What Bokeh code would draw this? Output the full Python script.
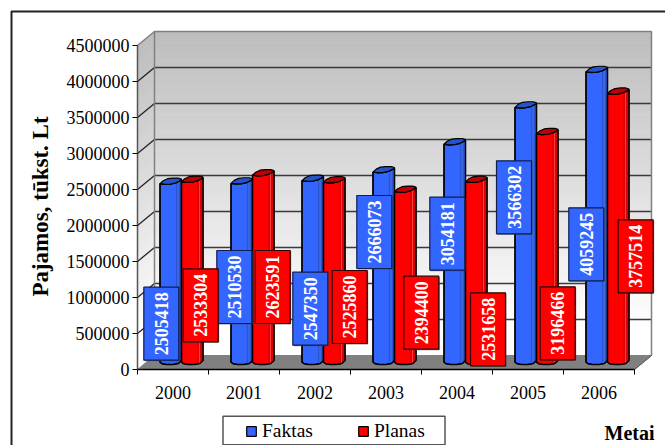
from bokeh.core.properties import value
from bokeh.embed import file_html
from bokeh.models import (BasicTickFormatter, BoxAnnotation, ColumnDataSource, FixedTicker, Label,
                          Legend, LegendItem, LinearAxis, Range1d)
from bokeh.plotting import figure
from bokeh.resources import INLINE
import numpy as np

years = ["2000", "2001", "2002", "2003", "2004", "2005", "2006"]
faktas = [2505418, 2510530, 2547350, 2666073, 3054181, 3566302, 4059245]
planas = [2533304, 2623591, 2525860, 2394400, 2531658, 3196466, 3757514]
y_ticks = [0, 500000, 1000000, 1500000, 2000000, 2500000, 3000000, 3500000, 4000000, 4500000]

# Drawing geometry in canvas pixels
W, H = 665, 445
LEFT, BASE = 137, 369
GROUP_PX = 71.0
UNIT_PX = 324 / 4500000
DEPTH_X, DEPTH_Y = 17.0, 14.0
BAR_W = 21.5
BAR_SHIFT = 8.5
BAR_LIFT = 5.4
FONT = "Liberation Serif"

# Upper-left corners of the value boxes, which sit freely over the columns
faktas_box = [(143.3, 286.7), (216.3, 250), (292.3, 271.7), (356.3, 195), (429.3, 196.7), (496, 160.3), (568.3, 207.3)]
planas_box = [(182.7, 268.3), (254.7, 250), (331.7, 270), (403.3, 275.7), (470, 292.3), (539.7, 286.3), (617.7, 219.3)]
BOX_W, BOX_H = 35, 73


def xd(px):
    return (np.asarray(px, dtype=float) - LEFT) / GROUP_PX - 0.5


def yd(py):
    return (BASE - np.asarray(py, dtype=float)) / UNIT_PX


p = figure(width=W, height=H, output_backend="svg", toolbar_location=None,
           x_axis_type=None, y_axis_type=None,
           x_range=Range1d(float(xd(0)), float(xd(W))),
           y_range=Range1d(float(yd(H)), float(yd(0))),
           min_border_left=0, min_border_right=0, min_border_top=0, min_border_bottom=0)
p.outline_line_color = None
p.background_fill_color = "white"
p.border_fill_color = "white"
p.grid.visible = False

# Shaded walls: narrow bands fading from grey to white
BACK_L, BACK_R = LEFT + DEPTH_X, 651
BACK_TOP, BACK_BOTTOM = BASE - 324 - DEPTH_Y, BASE - DEPTH_Y
edges = np.linspace(BACK_TOP, BACK_BOTTOM, 91)
wx, wy, sx, sy, shades = [], [], [], [], []
for a, b in zip(edges[:-1], edges[1:]):
    t = min(1.0, (b - BACK_TOP) / (BACK_BOTTOM - BACK_TOP - 25))
    g = int(round(188 + (255 - 188) * t))
    shades.append(f"#{g:02x}{g:02x}{g:02x}")
    wx.append(xd([BACK_L, BACK_R, BACK_R, BACK_L]))
    wy.append(yd([a, a, b + 0.5, b + 0.5]))
    sx.append(xd([LEFT, BACK_L, BACK_L, LEFT]))
    sy.append(yd([a + DEPTH_Y, a, b + 0.5, b + DEPTH_Y + 0.5]))
p.patches(wx, wy, fill_color=shades, line_color=None)
p.patches(sx, sy, fill_color=shades, line_color=None)

# Floor
p.patch(xd([LEFT, BACK_L, BACK_R, BACK_R - DEPTH_X]),
        yd([BASE, BASE - DEPTH_Y, BASE - DEPTH_Y, BASE]),
        fill_color="#808080", line_color="#808080")

# Grid lines across the back wall and down the side wall
level_px = [BASE - t * UNIT_PX for t in y_ticks]
p.segment(xd([BACK_L] * 9), yd([v - DEPTH_Y for v in level_px[1:-1]]),
          xd([BACK_R] * 9), yd([v - DEPTH_Y for v in level_px[1:-1]]),
          line_color="#3a3a3a", line_width=1.5)
p.segment(xd([LEFT] * 9), yd(level_px[1:-1]), xd([BACK_L] * 9), yd([v - DEPTH_Y for v in level_px[1:-1]]),
          line_color="#222222", line_width=1.3)

# Outline of the back wall and the top of the side wall
p.line(xd([BACK_L, BACK_L, BACK_R, BACK_R]), yd([BACK_BOTTOM, BACK_TOP, BACK_TOP, BACK_BOTTOM]),
       line_color="#808080", line_width=1.5)
p.line(xd([LEFT, BACK_L]), yd([BASE - 324, BACK_TOP]), line_color="#808080", line_width=1.5)
p.line(xd([BACK_R, BACK_R - DEPTH_X]), yd([BACK_BOTTOM, BASE]), line_color="#555555", line_width=1)

# Column outlines, as fractions of the width and pixel offsets from the top and the base
TOP_FRONT = [(0.0, 0.0), (0.25, 0.6), (0.5, 0.3), (0.75, -1.0), (1.0, -3.8)]
TOP_BACK = [(1.0, -4.6), (0.85, -5.6), (0.6, -5.6), (0.35, -5.0), (0.15, -3.0), (0.0, 0.0)]
BOTTOM = [(0.0, -2.0), (0.1, -0.4), (0.3, 0.4), (0.6, 0.4), (0.85, -0.6), (1.0, -3.5)]


def column(i, val, offset):
    left = LEFT + GROUP_PX * (i + 0.5) + BAR_SHIFT - BAR_W + offset
    top = BASE - BAR_LIFT - val * UNIT_PX
    bottom = BASE - BAR_LIFT
    body_x = [left + f * BAR_W for f, _ in TOP_FRONT] + [left + f * BAR_W for f, _ in reversed(BOTTOM)]
    body_y = [top + d for _, d in TOP_FRONT] + [bottom + d for _, d in reversed(BOTTOM)]
    cap_x = [left + f * BAR_W for f, _ in TOP_FRONT + TOP_BACK]
    cap_y = [top + d for _, d in TOP_FRONT + TOP_BACK]
    return left, top, bottom, body_x, body_y, cap_x, cap_y


def draw_series(vals, offset, main, side, glint, cap):
    bx, by, cx, cy, rx, ry, gx, gy = [], [], [], [], [], [], [], []
    for i, val in enumerate(vals):
        left, top, bottom, body_x, body_y, cap_x, cap_y = column(i, val, offset)
        bx.append(xd(body_x))
        by.append(yd(body_y))
        cx.append(xd(cap_x))
        cy.append(yd(cap_y))
        rx.append(xd([left + 0.74 * BAR_W, left + 0.98 * BAR_W, left + 0.98 * BAR_W, left + 0.74 * BAR_W]))
        ry.append(yd([top - 1.0, top - 3.4, bottom - 3.4, bottom - 0.6]))
        gx.append(xd([left + 0.84 * BAR_W, left + 0.84 * BAR_W]))
        gy.append(yd([top - 2.0, bottom - 1.5]))
    body = p.patches(bx, by, fill_color=main, line_color="black", line_width=1.2)
    p.patches(rx, ry, fill_color=side, line_color=None)
    p.multi_line(gx, gy, line_color=glint, line_width=1, line_alpha=0.7)
    p.patches(bx, by, fill_color=None, line_color="black", line_width=1.4)
    p.patches(cx, cy, fill_color=cap, line_color="black", line_width=1.2)
    return body


for_each = [
    (faktas, 0.0, "#3366FF", "#2A55D0", "#5C86FF", "#2355C8"),
    (planas, BAR_W, "#FF0000", "#DC0000", "#FF6060", "#C00000"),
]
renderers = [draw_series(*args) for args in for_each]


# Value boxes with rotated numbers
def draw_boxes(vals, boxes, fill, edge):
    left = np.array([b[0] for b in boxes])
    top = np.array([b[1] for b in boxes])
    p.quad(left=xd(left + 1), right=xd(left + BOX_W + 1), top=yd(top + 1), bottom=yd(top + BOX_H + 1),
           fill_color="#444444", line_color=None, fill_alpha=0.6)
    p.quad(left=xd(left), right=xd(left + BOX_W), top=yd(top), bottom=yd(top + BOX_H),
           fill_color=fill, line_color=edge, line_width=1.2)
    src = ColumnDataSource(dict(x=xd(left + BOX_W / 2), y=yd(top + BOX_H / 2), t=[str(v) for v in vals]))
    p.text("x", "y", text="t", source=src, angle=np.pi / 2, text_align="center", text_baseline="middle",
           text_color="white", text_font=value(FONT), text_font_style="bold", text_font_size="18px")


draw_boxes(faktas, faktas_box, "#3366FF", "#101c50")
draw_boxes(planas, planas_box, "#FF0000", "#300000")

# Value axis on the front edge of the side wall
y_axis = LinearAxis(bounds=(0, 4500000), ticker=FixedTicker(ticks=y_ticks), fixed_location=-0.5,
                    formatter=BasicTickFormatter(use_scientific=False),
                    axis_line_color="#555555", axis_line_width=1.5,
                    major_tick_line_color="black", major_tick_in=0, major_tick_out=5,
                    minor_tick_line_color=None,
                    major_label_text_font=FONT, major_label_text_font_size="18px",
                    major_label_text_color="black", major_label_standoff=3)
p.add_layout(y_axis, "left")

# Year axis: labels at the group centres, ticks on the group boundaries
x_axis = LinearAxis(bounds=(-0.5, 6.5), fixed_location=0,
                    ticker=FixedTicker(ticks=list(range(len(years))), minor_ticks=[i - 0.5 for i in range(len(years) + 1)]),
                    major_label_overrides={i: y for i, y in enumerate(years)},
                    axis_line_color="black", axis_line_width=1.5,
                    major_tick_line_color=None, minor_tick_line_color="black", minor_tick_in=0, minor_tick_out=5,
                    major_tick_out=0, major_tick_in=0,
                    major_label_text_font=FONT, major_label_text_font_size="18px",
                    major_label_text_color="black", major_label_standoff=11)
p.add_layout(x_axis, "below")

# Legend panel, with the entries laid over it
p.quad(left=xd([222.5]), right=xd([444.5]), top=yd([415.7]), bottom=yd([444.3]),
       fill_color="white", line_color="#555555", line_width=1.5)
legend = Legend(items=[LegendItem(label="Faktas", renderers=[renderers[0]]),
                       LegendItem(label="Planas", renderers=[renderers[1]])],
                orientation="horizontal", location=(245, 3),
                label_text_font=FONT, label_text_font_size="19.5px", label_text_color="black",
                glyph_width=12, glyph_height=12, spacing=44, padding=0, margin=0,
                label_standoff=5, border_line_color=None, background_fill_alpha=0)
p.add_layout(legend, "center")

p.add_layout(Label(x=604, y=432, x_units="canvas", y_units="canvas", text="Metai",
                   text_font=FONT, text_font_style="bold", text_font_size="20px",
                   text_baseline="middle", text_color="black"))

p.add_layout(Label(x=40, y=206, x_units="canvas", y_units="canvas", text="Pajamos, tūkst. Lt",
                   angle=np.pi / 2, text_font=FONT, text_font_style="bold", text_font_size="23px",
                   text_align="center", text_baseline="middle", text_color="black"))

# Outer border, open to the right and below
p.add_layout(BoxAnnotation(left=11, right=720, top=11, bottom=520,
                           left_units="canvas", right_units="canvas", top_units="canvas", bottom_units="canvas",
                           fill_alpha=0, line_color="#222222", line_alpha=1, line_width=2))

open("out.html", "w").write(file_html(p, INLINE))
